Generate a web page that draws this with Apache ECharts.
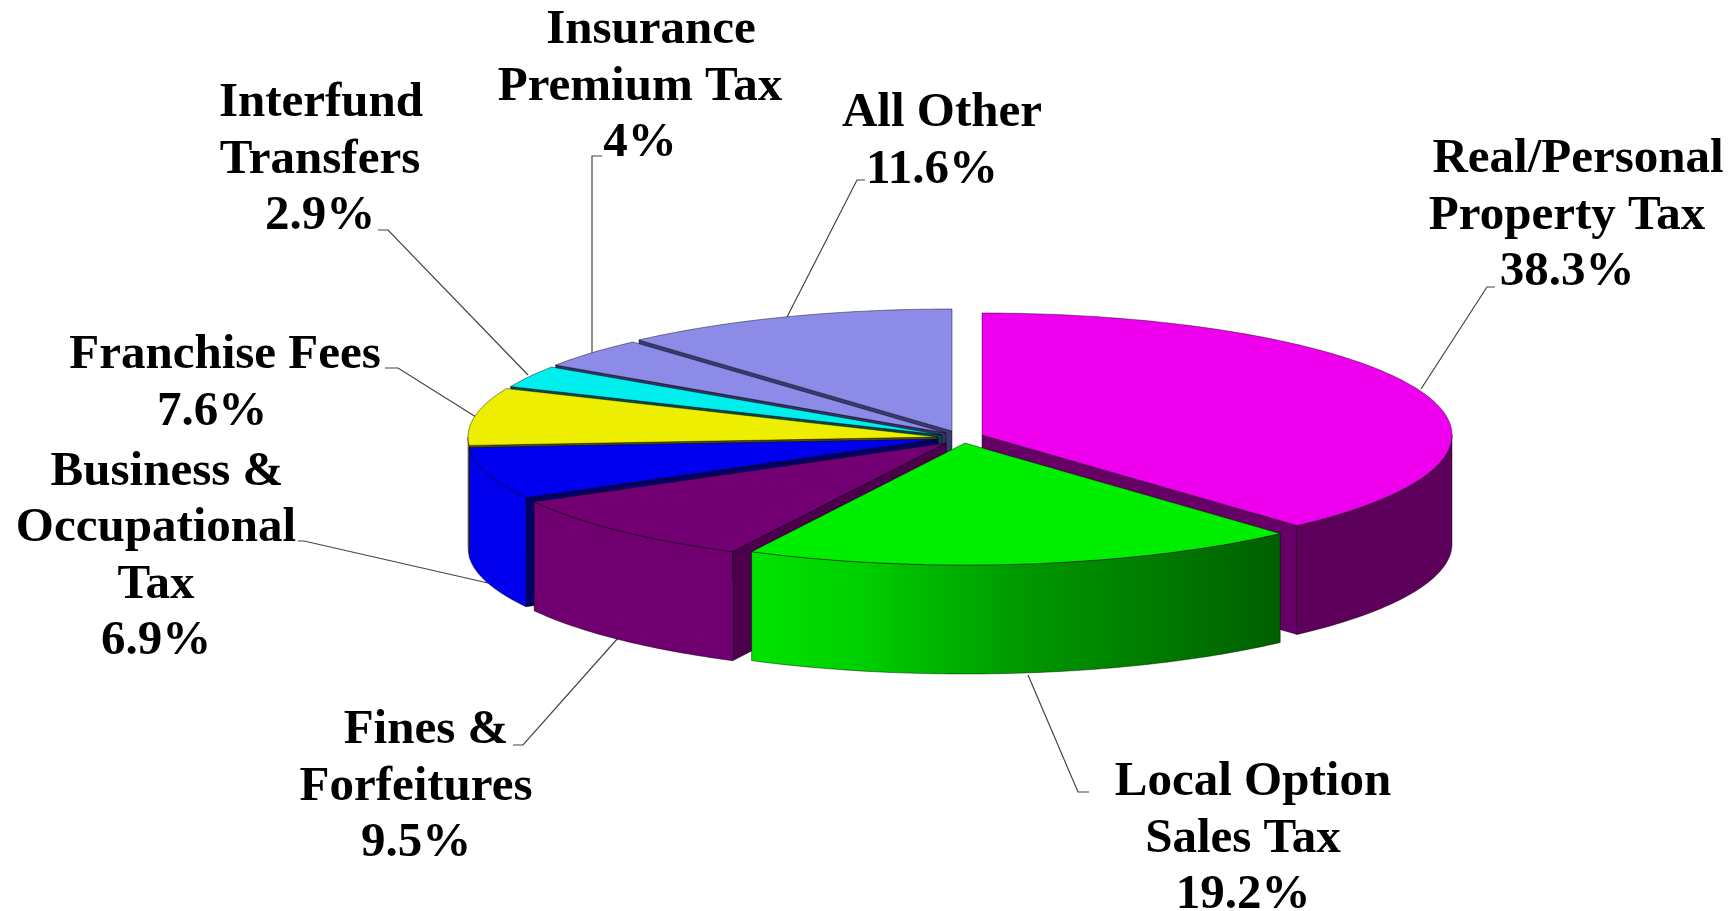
<!DOCTYPE html>
<html>
<head>
<meta charset="utf-8">
<title>Revenue sources</title>
<script src="https://cdn.jsdelivr.net/npm/echarts@6/dist/echarts.min.js"></script>
<style>
    html, body {margin: 0; padding: 0; background: #fff;}
    #main {width: 1734px; height: 911px;}
</style>
</head>
<body>
<div id="main"></div>
<script>
// values in clockwise order starting at 12 o'clock
const categories = ['Real/Personal\nProperty Tax', 'Local Option\nSales Tax', 'Fines &\nForfeitures',
    'Business &\nOccupational\nTax', 'Franchise Fees', 'Interfund\nTransfers', 'Insurance\nPremium Tax', 'All Other'];
const values = [38.3, 19.2, 9.5, 6.9, 7.6, 2.9, 4, 11.6];

// the faked 3d look
const radius_x = 470;
const radius_y = 122;
const depth = 109;
const slice_centers = [[982, 435], [965, 443], [946, 443], [938, 439], [938, 437], [942, 435], [946, 433], [952, 431]];
const top_colors = ['#ee00ee', '#00ee00', '#720072', '#0000ee', '#eeee00', '#00eeee', '#8c8ce8', '#8c8ce8'];
const wall_colors = ['#5c005c', '#00ee00', '#700070', '#0000ee', '#a8a800', '#00aaaa', '#5c5ca0', '#5c5ca0'];
const face_colors = ['#660066', '#006600', '#4c004c', '#000066', '#555500', '#004c4c', '#333366', '#3a3a72'];
// back slices first, the ones in front paint over them
const draw_order = [7, 6, 5, 4, 0, 3, 2, 1];

// x of the text block, y of its middle line, first line sits a bit to the right
const label_centers = [[1567, 216], [1243, 839], [416, 787], [156, 557], [212, 384], [320, 160], [640, 87], [932, 142]];
const first_line_shift = [11, 10, 10, 11, 13, 1, 11, 10];
const line_height = 56.4;
const leader_lines = [
    [[1421, 389], [1487, 287], [1495, 287]],
    [[1028, 675], [1078, 792], [1089, 792]],
    [[618, 638], [523, 745], [513, 745]],
    [[488, 583], [304, 541], [298, 541]],
    [[476, 417], [398, 368], [385, 368]],
    [[528, 375], [388, 230], [378, 230]],
    [[592, 355], [592, 156], [602, 156]],
    [[786, 319], [857, 180], [865, 180]]
];

const total = values.reduce((a, b) => a + b, 0);
const outline = 'rgba(0,0,0,0.55)';

function slice_angles(idx) {
    let before = 0;
    for (let i = 0; i < idx; i++) before += values[i];
    return [before / total * 360, (before + values[idx]) / total * 360];
}

function rim_point(center, deg) {
    let r = deg * Math.PI / 180;
    return [center[0] + radius_x * Math.sin(r), center[1] - radius_y * Math.cos(r)];
}

function rim_points(center, from, to) {
    let pts = [];
    for (let d = from; d < to; d += 1) pts.push(rim_point(center, d));
    pts.push(rim_point(center, to));
    return pts;
}

function drop(pts) {
    return pts.map(p => [p[0], p[1] + depth]).reverse();
}

function polygon(points, fill) {
    return {
        type: 'polygon',
        shape: {points: points},
        style: {fill: fill, stroke: outline, lineWidth: 0.8}
    };
}

function wall_fill(idx) {
    if (idx !== 1) return wall_colors[idx];
    return new echarts.graphic.LinearGradient(0, 0, 1, 0, [
        {offset: 0, color: '#00e400'},
        {offset: 0.2, color: '#00d000'},
        {offset: 0.5, color: '#009a00'},
        {offset: 1, color: '#005f00'}
    ]);
}

function render_slice(params, api) {
    let idx = api.value(0);
    let center = slice_centers[idx];
    let angles = slice_angles(idx);
    let from = angles[0], to = angles[1];
    let children = [];

    // cut faces, only those turned towards the viewer
    if (from > 180) {
        let edge = [center, rim_point(center, from)];
        children.push(polygon(edge.concat(drop(edge)), face_colors[idx]));
    }
    if (to < 180) {
        let edge = [center, rim_point(center, to)];
        children.push(polygon(edge.concat(drop(edge)), face_colors[idx]));
    }

    // outer wall, front half of the ellipse only
    let wall_from = Math.max(from, 90), wall_to = Math.min(to, 270);
    if (wall_from < wall_to) {
        let rim = rim_points(center, wall_from, wall_to);
        children.push(polygon(rim.concat(drop(rim)), wall_fill(idx)));
    }

    children.push(polygon([center].concat(rim_points(center, from, to)), top_colors[idx]));
    return {type: 'group', children: children};
}

function render_label(params, api) {
    let idx = api.value(0);
    let pos = label_centers[idx];
    let lines = (categories[idx] + '\n' + values[idx] + '%').split('\n');
    let children = [{
        type: 'polyline',
        shape: {points: leader_lines[idx]},
        style: {stroke: '#444444', lineWidth: 1.2, fill: null}
    }];
    lines.forEach((line, n) => {
        children.push({
            type: 'text',
            x: pos[0] + (n === 0 ? first_line_shift[idx] : 0),
            y: pos[1] + (n - (lines.length - 1) / 2) * line_height,
            style: {
                text: line,
                fill: '#000',
                font: 'bold 49px "Liberation Serif"',
                align: 'center',
                verticalAlign: 'middle'
            }
        });
    });
    return {type: 'group', children: children};
}

let chart = echarts.init(document.getElementById('main'));
chart.setOption({
    backgroundColor: '#ffffff',
    animation: false,
    series: [
        {
            type: 'custom',
            coordinateSystem: 'none',
            renderItem: render_slice,
            data: draw_order.map(i => [i]),
            silent: true,
            z: 2
        },
        {
            type: 'custom',
            coordinateSystem: 'none',
            renderItem: render_label,
            data: values.map((v, i) => [i]),
            silent: true,
            z: 1
        }
    ]
});
</script>
</body>
</html>
